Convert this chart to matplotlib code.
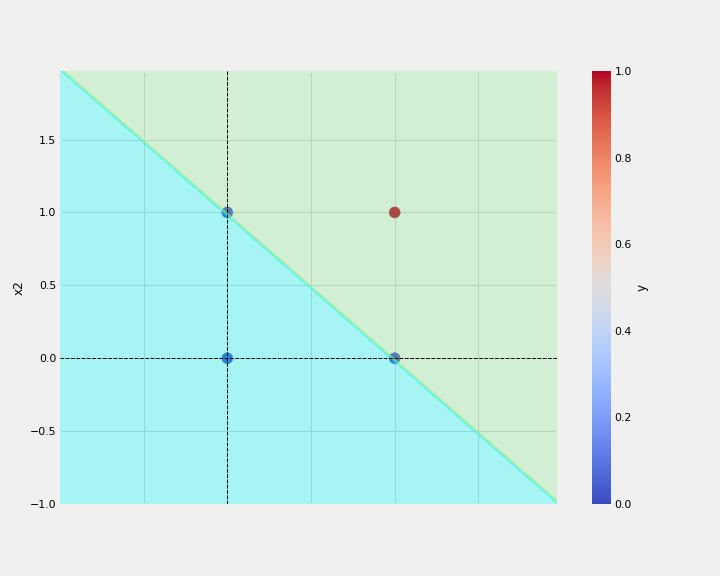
import numpy as np
import pandas as pd
import matplotlib
matplotlib.use("Agg")
import matplotlib.pyplot as plt
from matplotlib.colors import ListedColormap

plt.style.use("fivethirtyeight")

# AND gate data
x1 = [0, 0, 1, 1]
x2 = [0, 1, 0, 1]
y = [0, 0, 0, 1]

# perceptron weights (boundary x1 + x2 = 1)
w1, w2, bias = 1.0, 1.0, -1.0
step = 0.03

df = pd.DataFrame({"x1": x1, "x2": x2, "y": y})

fig = plt.figure(figsize=(10, 8), dpi=72)
ax = fig.add_axes([60 / 720, 72 / 576, 497 / 720, 433 / 576])
cax = fig.add_axes([592 / 720, 72 / 576, 19 / 720, 433 / 576])

sc = ax.scatter(df["x1"], df["x2"], c=df["y"], cmap="coolwarm", s=120,
                vmin=0, vmax=1, zorder=2)

xx1, xx2 = np.meshgrid(np.arange(-1, 2, step), np.arange(-1, 2, step))
Z = (w1 * xx1 + w2 * xx2 + bias > 0).astype(int)
ax.contourf(xx1, xx2, Z, alpha=0.3, cmap=ListedColormap(["cyan", "lightgreen"]),
            zorder=3)

ax.axhline(0, color="black", linestyle="--", linewidth=1, zorder=4)
ax.axvline(0, color="black", linestyle="--", linewidth=1, zorder=4)

ax.set_axisbelow(True)
ax.grid(True, color="#cbcbcb", linewidth=1)
ax.set_xticks([-0.5, 0, 0.5, 1, 1.5])
ax.set_yticks([-1.0, -0.5, 0.0, 0.5, 1.0, 1.5])
ax.tick_params(axis="x", labelbottom=False, length=0)
ax.tick_params(axis="y", labelsize=11, length=0)
ax.set_ylabel("x2", fontsize=12)
ax.set_xlim(-1, 1.97)
ax.set_ylim(-1, 1.97)

cb = fig.colorbar(sc, cax=cax)
cb.outline.set_visible(False)
cb.set_ticks([0, 0.2, 0.4, 0.6, 0.8, 1.0])
cb.ax.tick_params(labelsize=11, length=0)
cb.set_label("y", fontsize=12)

fig.savefig("out.png", dpi=72, facecolor="#f0f0f0")
